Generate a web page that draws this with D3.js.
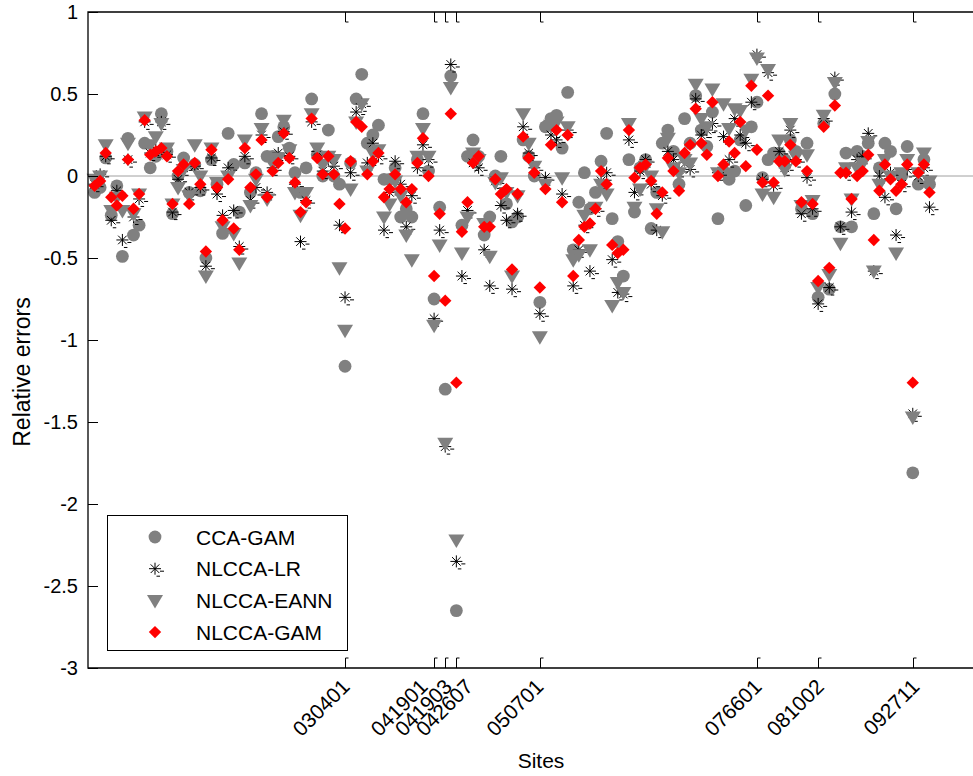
<!DOCTYPE html>
<html>
<head>
<meta charset="utf-8">
<script src="https://cdn.jsdelivr.net/npm/d3@7"></script>
<style>
  body { margin: 0; background: #fff; }
  svg { display: block; }
  text { font-family: "Liberation Sans", Arial, Helvetica, sans-serif; fill: #000; }
</style>
</head>
<body>
<script>
// Relative errors per site (index 1..151) for each model
const ccaGam = [-0.10,-0.07,0.11,-0.24,-0.06,-0.49,0.23,-0.36,-0.30,0.20,
  0.05,0.12,0.38,0.15,-0.23,0.00,0.11,-0.10,0.07,-0.09,
  -0.50,0.10,-0.05,-0.35,0.26,0.07,-0.22,0.08,-0.10,0.02,
  0.38,0.12,0.12,0.24,0.30,0.17,0.02,-0.10,0.05,0.47,
  0.13,0.00,0.28,0.00,-0.05,-1.16,0.08,0.47,0.62,0.20,
  0.25,0.31,-0.02,-0.02,0.05,-0.25,-0.20,-0.25,0.10,0.38,
  0.03,-0.75,-0.19,-1.30,0.61,-2.65,-0.30,0.12,0.22,0.12,
  -0.36,-0.25,0.00,0.12,-0.17,-0.28,-0.25,0.22,0.12,0.00,
  -0.77,0.30,0.35,0.37,0.17,0.51,-0.45,-0.16,0.02,-0.20,
  -0.10,0.09,0.26,-0.26,-0.40,-0.61,0.10,-0.22,0.05,0.10,
  -0.32,-0.10,0.20,0.28,0.15,-0.05,0.35,0.20,0.49,0.28,
  0.18,0.39,-0.26,0.03,-0.02,0.03,0.22,-0.18,0.30,0.45,
  -0.01,0.10,0.14,0.14,0.10,0.22,0.15,-0.20,0.20,-0.23,
  -0.74,0.32,-0.69,0.50,-0.31,0.14,-0.31,0.15,0.12,0.20,
  -0.23,0.05,0.20,0.15,-0.20,0.00,0.18,-1.81,-0.05,0.10,
  -0.05];
const nlccaLr = [-0.05,0.01,0.12,-0.27,-0.09,-0.39,0.10,-0.25,-0.14,0.33,
  0.14,0.16,0.33,0.13,-0.22,-0.02,0.05,-0.10,0.06,-0.07,
  -0.55,0.11,-0.11,-0.24,0.05,-0.21,-0.43,0.12,-0.15,-0.07,
  0.25,-0.10,0.05,0.14,0.27,0.12,-0.05,-0.40,-0.15,0.33,
  0.15,0.03,0.10,0.06,-0.30,-0.74,0.02,0.39,0.44,0.08,
  0.20,0.12,-0.33,-0.10,0.09,-0.05,-0.31,-0.12,0.05,0.19,
  0.10,-0.87,-0.33,-1.65,0.68,-2.35,-0.61,-0.21,0.08,0.05,
  -0.45,-0.67,-0.03,-0.18,-0.27,-0.69,-0.23,0.30,0.14,0.05,
  -0.84,-0.01,0.25,0.22,-0.11,0.28,-0.67,-0.45,-0.30,-0.58,
  -0.20,-0.03,0.02,-0.51,-0.71,-0.72,0.22,-0.10,0.03,0.10,
  -0.05,-0.33,-0.12,0.15,0.10,0.04,0.12,0.04,0.47,0.25,
  0.28,0.32,0.02,0.24,0.10,0.35,0.25,0.20,0.45,0.74,
  -0.02,0.63,-0.06,0.15,0.05,0.28,0.10,-0.23,-0.01,-0.20,
  -0.78,0.35,-0.68,0.60,-0.31,0.02,-0.22,0.10,0.12,0.26,
  -0.58,0.00,-0.13,0.02,-0.36,-0.05,0.04,-1.45,0.00,0.05,
  -0.19];
const nlccaEann = [-0.02,0.00,0.19,-0.21,-0.13,-0.21,0.20,-0.23,-0.11,0.36,
  0.19,0.24,0.32,0.17,-0.17,-0.07,0.04,-0.12,0.19,0.00,
  -0.61,0.17,-0.04,-0.31,0.00,-0.35,-0.53,0.22,-0.18,-0.02,
  0.29,-0.14,0.08,0.11,0.34,0.16,-0.10,-0.24,-0.10,0.38,
  0.17,0.07,0.12,0.10,-0.56,-0.94,-0.08,0.33,0.44,0.03,
  0.14,0.16,-0.25,-0.17,-0.03,-0.12,-0.36,-0.51,0.12,0.29,
  0.12,-0.91,-0.42,-1.63,0.54,-2.22,-0.47,-0.25,0.14,0.10,
  -0.29,-0.49,-0.04,-0.01,-0.10,-0.61,-0.12,0.38,0.20,0.06,
  -0.98,-0.05,0.31,0.33,-0.01,0.30,-0.51,-0.48,-0.24,-0.45,
  -0.19,-0.05,-0.11,-0.79,-0.65,-0.71,0.32,-0.19,-0.08,0.06,
  0.00,-0.20,-0.34,0.23,0.05,0.02,0.10,0.08,0.56,0.35,
  0.30,0.53,0.02,0.44,0.29,0.41,0.40,0.28,0.59,0.72,
  -0.11,0.65,-0.13,0.22,0.04,0.32,0.12,-0.18,0.13,-0.15,
  -0.68,0.37,-0.60,0.57,-0.41,0.05,-0.14,0.05,0.08,0.21,
  -0.58,-0.05,0.10,0.00,-0.47,0.02,0.10,-1.47,0.02,0.14,
  -0.03];
const nlccaGam = [-0.06,-0.03,0.14,-0.13,-0.18,-0.12,0.10,-0.20,-0.11,0.34,
  0.13,0.15,0.17,0.12,-0.17,0.03,0.07,-0.17,0.08,-0.05,
  -0.46,0.16,-0.07,-0.27,-0.02,-0.32,-0.45,0.17,-0.07,0.01,
  0.22,-0.13,0.03,0.08,0.26,0.11,-0.04,-0.22,-0.16,0.35,
  0.11,0.01,0.12,0.01,-0.17,-0.32,0.09,0.33,0.30,0.01,
  0.09,0.14,-0.13,-0.08,0.01,-0.08,-0.16,-0.08,0.08,0.23,
  0.00,-0.61,-0.23,-0.76,0.38,-1.26,-0.34,-0.16,0.08,0.12,
  -0.31,-0.31,-0.02,-0.11,-0.08,-0.57,-0.11,0.24,0.11,0.02,
  -0.68,-0.08,0.19,0.28,-0.16,0.25,-0.61,-0.39,-0.31,-0.29,
  -0.20,0.03,-0.05,-0.42,-0.47,-0.45,0.28,-0.01,0.05,0.07,
  -0.03,-0.23,-0.10,0.11,0.03,-0.09,0.14,0.19,0.41,0.20,
  0.13,0.45,0.00,0.07,0.21,0.14,0.33,0.06,0.55,0.16,
  -0.04,0.49,-0.04,0.09,0.09,0.19,0.09,-0.16,0.03,-0.17,
  -0.64,0.30,-0.56,0.43,0.02,0.02,-0.14,0.00,0.03,0.13,
  -0.39,-0.09,0.07,-0.02,-0.09,-0.05,0.07,-1.26,0.02,0.07,
  -0.10];

const siteTicks = [46, 62, 64, 66, 81, 120, 131, 148];
const siteTickLabels = ["030401", "041901", "041903", "042607", "050701", "076601", "081002", "092711"];
const yTicks = [1, 0.5, 0, -0.5, -1, -1.5, -2, -2.5, -3];
const seriesNames = ["CCA-GAM", "NLCCA-LR", "NLCCA-EANN", "NLCCA-GAM"];

// layout: horizontal shift of each rotated site label so the crowded ones stay legible
const labelShift = [6, -5, 8, 18, 5, 6, 7, 8];

const W = 973, H = 776;
const frame = { left: 88, top: 12, bottom: 668, right: 973 };

const svg = d3.select("body").append("svg").attr("width", W).attr("height", H);

const x = d3.scaleLinear().domain([0, 159]).range([89, 974]);
const y = d3.scaleLinear().domain([-3, 1]).range([frame.bottom, frame.top]);

const sites = d3.range(1, ccaGam.length + 1);

// marker shapes
const gray = "#808080";
const markers = [
  { name: seriesNames[0], values: ccaGam,
    draw: g => g.append("circle").attr("r", 6.4).attr("fill", gray) },
  { name: seriesNames[1], values: nlccaLr,
    draw: g => g.append("path")
      .attr("d", "M-6,0H6M0,-6V6M-4.3,-4.3L4.3,4.3M-4.3,4.3L4.3,-4.3M5,2.5H9M1.5,7.5H5")
      .attr("stroke", "#000").attr("stroke-width", 1).attr("fill", "none") },
  { name: seriesNames[2], values: nlccaEann,
    draw: g => g.append("path").attr("d", "M-8,-5.5L8,-5.5L0,8Z").attr("fill", gray) },
  { name: seriesNames[3], values: nlccaGam,
    draw: g => g.append("path").attr("d", "M0,-6.2L6.2,0L0,6.2L-6.2,0Z").attr("fill", "#ff0000") }
];

// zero reference line
svg.append("line")
  .attr("x1", frame.left).attr("x2", frame.right)
  .attr("y1", y(0)).attr("y2", y(0))
  .attr("stroke", "#a0a0a0").attr("stroke-width", 1);

// points, one layer per series
markers.forEach(m => {
  const layer = svg.append("g");
  sites.forEach((s, i) => {
    const g = layer.append("g").attr("transform", `translate(${x(s)},${y(m.values[i])})`);
    m.draw(g);
  });
});

// frame: left, top and bottom edges
svg.append("path")
  .attr("d", `M${frame.right},${frame.top}H${frame.left}V${frame.bottom}H${frame.right}`)
  .attr("fill", "none").attr("stroke", "#000").attr("stroke-width", 1.3);

// y axis ticks and labels
const yAxis = d3.axisLeft(y).tickValues(yTicks).tickSize(-10).tickPadding(10)
  .tickFormat(d => String(d));
const yg = svg.append("g").attr("transform", `translate(${frame.left},0)`).call(yAxis);
yg.select(".domain").remove();
yg.selectAll(".tick line").attr("stroke", "#000");
yg.selectAll(".tick text").style("font-size", "20px").attr("fill", "#000");

// site ticks on top and bottom edges, rotated labels below
siteTicks.forEach((s, k) => {
  const tx = Math.round(x(s)) + 0.5;
  svg.append("path").attr("d", `M${tx},${frame.top}V${frame.top + 10}H${tx + 3}`)
    .attr("fill", "none").attr("stroke", "#000").attr("stroke-width", 1);
  svg.append("path").attr("d", `M${tx},${frame.bottom}V${frame.bottom - 10}H${tx + 3}`)
    .attr("fill", "none").attr("stroke", "#000").attr("stroke-width", 1);
  svg.append("text")
    .attr("transform", `translate(${x(s) + labelShift[k]},${frame.bottom + 20}) rotate(-45)`)
    .attr("text-anchor", "end")
    .style("font-size", "21px")
    .text(siteTickLabels[k]);
});

// axis titles
svg.append("text").attr("x", 541).attr("y", 768).attr("text-anchor", "middle")
  .style("font-size", "21px").text("Sites");
svg.append("text").attr("transform", `translate(30,372) rotate(-90)`)
  .attr("text-anchor", "middle").style("font-size", "23px").text("Relative errors");

// legend
const lg = svg.append("g");
lg.append("rect").attr("x", 107.5).attr("y", 515.5).attr("width", 240).attr("height", 135)
  .attr("fill", "#fff").attr("stroke", "#000").attr("stroke-width", 1);
markers.forEach((m, k) => {
  const ry = 537 + k * 31.7;
  const g = lg.append("g").attr("transform", `translate(155,${ry})`);
  m.draw(g);
  lg.append("text").attr("x", 196).attr("y", ry).attr("dy", "0.36em")
    .style("font-size", "21px").text(m.name);
});
</script>
</body>
</html>
